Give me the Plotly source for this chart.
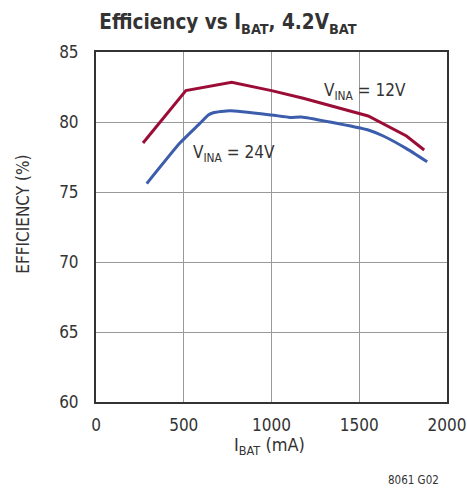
import plotly.graph_objects as go

# data
x12 = [268, 512, 773, 1000, 1181, 1333, 1551, 1769, 1870]
y12 = [78.5, 82.24, 82.84, 82.24, 81.7, 81.17, 80.43, 79.0, 78.0]

x24 = [289, 478, 592, 640, 668, 763, 1000, 1105, 1171, 1333, 1551, 1637, 1769, 1887]
y24 = [75.6, 78.5, 79.9, 80.5, 80.66, 80.81, 80.5, 80.33, 80.36, 80.0, 79.43, 79.0, 78.1, 77.16]

xticks = [0, 500, 1000, 1500, 2000]
yticks = [60, 65, 70, 75, 80, 85]

FONT = "DejaVu Sans Condensed, Liberation Sans Narrow, sans-serif"
TXT = "#333333"

fig = go.Figure()
fig.add_trace(go.Scatter(x=x12, y=y12, mode="lines",
                         line=dict(color="#9B0D36", width=3), showlegend=False))
fig.add_trace(go.Scatter(x=x24, y=y24, mode="lines",
                         line=dict(color="#3B5DAB", width=3, shape="spline", smoothing=0.5),
                         showlegend=False))

fig.add_annotation(x=1285, y=82.2, xref="x", yref="y", text="V<sub>INA</sub> = 12V",
                   showarrow=False, xanchor="left", yanchor="middle",
                   font=dict(family=FONT, size=17, color=TXT))
fig.add_annotation(x=539, y=77.72, xref="x", yref="y", text="V<sub>INA</sub> = 24V",
                   showarrow=False, xanchor="left", yanchor="middle",
                   font=dict(family=FONT, size=17, color=TXT))
fig.add_annotation(x=0.983, y=-0.223, xref="paper", yref="paper", text="8061 G02",
                   showarrow=False, xanchor="right", yanchor="middle",
                   font=dict(family=FONT, size=11.5, color=TXT))
# axis titles
fig.add_annotation(x=0.493, y=-0.127, xref="paper", yref="paper", text="I<sub>BAT</sub> (mA)",
                   showarrow=False, xanchor="center", yanchor="middle",
                   font=dict(family=FONT, size=18, color=TXT))
fig.add_annotation(x=-0.209, y=0.537, xref="paper", yref="paper", text="EFFICIENCY (%)",
                   showarrow=False, xanchor="center", yanchor="middle", textangle=-90,
                   font=dict(family=FONT, size=17, color=TXT))

fig.update_layout(
    width=467, height=490,
    margin=dict(l=96, r=20, t=52, b=88, autoexpand=False),
    paper_bgcolor="white", plot_bgcolor="white",
    title=dict(text="<b>Efficiency vs I<sub>BAT</sub>, 4.2V<sub>BAT</sub></b>",
               x=0.488, xanchor="center", y=0.955, yanchor="middle",
               font=dict(family=FONT, size=20.5, color=TXT)),
    font=dict(family=FONT, size=17, color=TXT),
)
fig.update_xaxes(range=[0, 2000], tickvals=xticks, showgrid=True, gridcolor="#999999",
                 gridwidth=1.3, showline=True, linecolor="#333333", linewidth=2, mirror=True,
                 zeroline=False, ticks="", ticklabelstandoff=7, automargin=False)
fig.update_yaxes(range=[60, 85], tickvals=yticks, showgrid=True, gridcolor="#999999",
                 gridwidth=1.3, showline=True, linecolor="#333333", linewidth=2, mirror=True,
                 zeroline=False, ticks="", ticklabelstandoff=12, automargin=False)

fig.write_html("out.html", config={"displayModeBar": False},
               post_script="document.body.style.margin='0';document.body.style.overflow='hidden';")
